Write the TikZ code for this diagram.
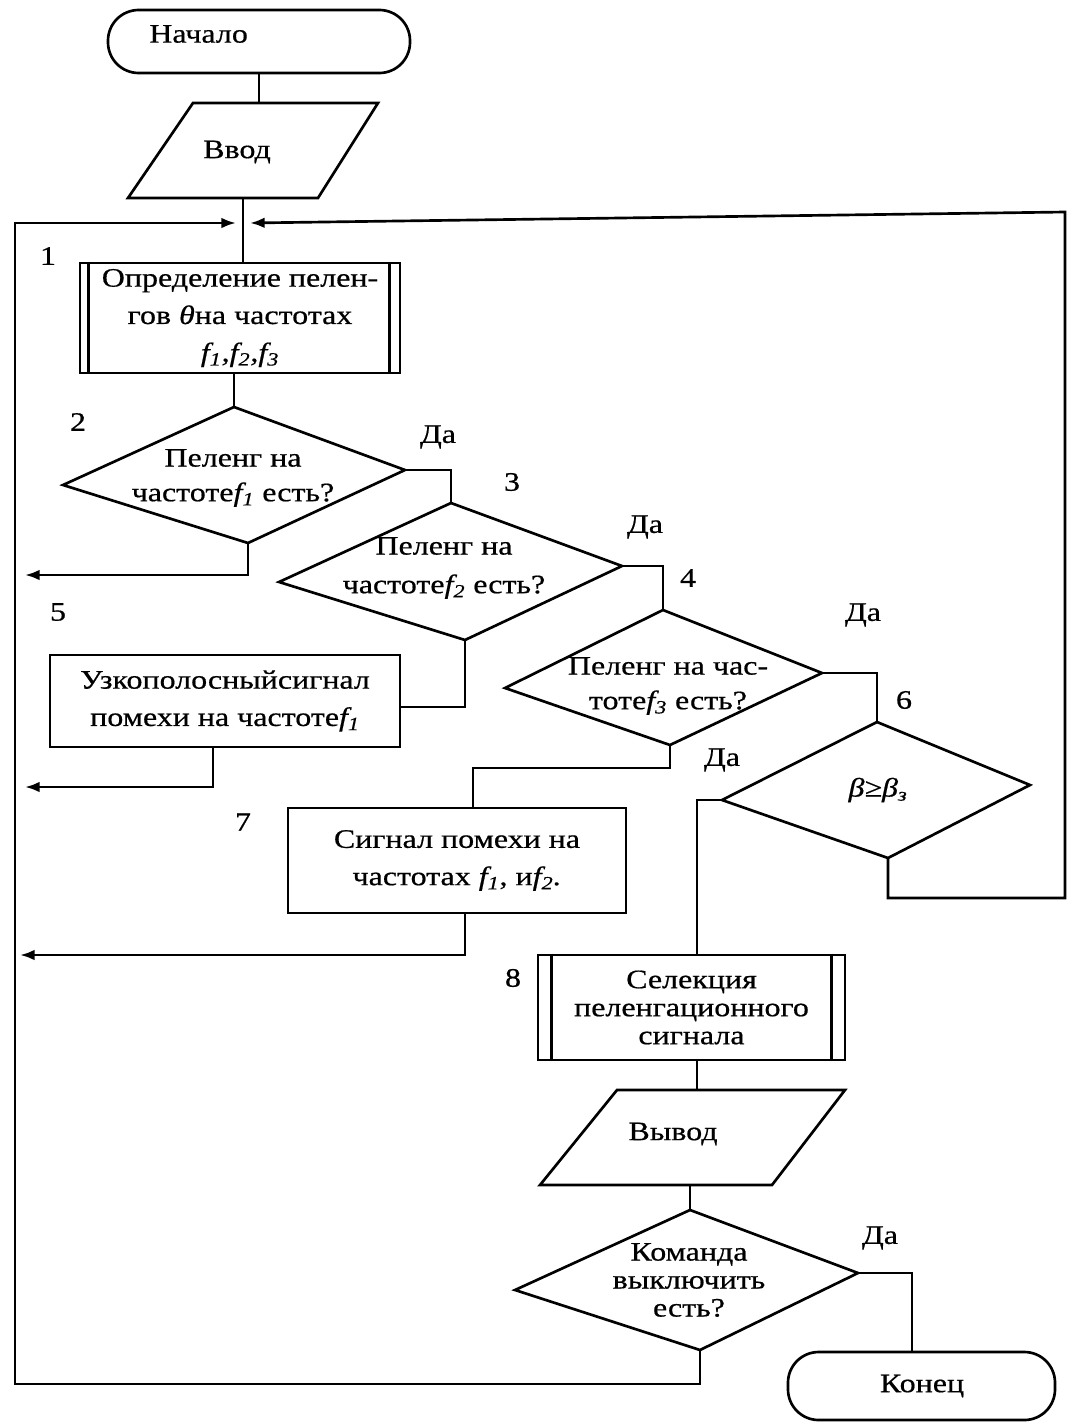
\documentclass[tikz,border=0pt]{standalone}
\usepackage{fontspec}
\setmainfont{Liberation Serif}[FakeStretch=1.2,FakeBold=0.6]
\usetikzlibrary{arrows.meta}
\begin{document}
\begin{tikzpicture}[x=0.75pt,y=-0.75pt,line width=2pt,
  every node/.style={font=\fontsize{20}{28}\selectfont,inner sep=0pt,align=center},
  proc/.style={draw,rectangle,line width=2pt},
  term/.style={draw,rectangle,rounded corners=23pt,line width=2pt},
  tight/.style={font=\fontsize{20}{21}\selectfont},
  arr/.style={-{Latex[length=11pt,width=8pt]}}]
\useasboundingbox (0,0) rectangle (1068,1424);
\fill[white] (0,0) rectangle (1068,1424);

% start
\node[term,minimum width=226.5pt,minimum height=47.25pt] (start) at (259,41.5) {};
\node[anchor=west] (tstart) at (148,34) {Начало};

% input
\coordinate (i1) at (193,103); \coordinate (i2) at (378,103);
\coordinate (i3) at (318,198); \coordinate (i4) at (128,198);
\draw (i1) -- (i2) -- (i3) -- (i4) -- cycle;
\node (tinp) at (237,152) {Ввод};

% box 1
\node[proc,minimum width=240pt,minimum height=82.5pt] (b1) at (240,318)
 {Определение пелен-\\гов \textit{θ}на частотах\\\textit{f\textsubscript{1},f\textsubscript{2},f\textsubscript{3}}};
\draw ([xshift=7.5pt]b1.north west) -- ([xshift=7.5pt]b1.south west);
\draw ([xshift=-9pt]b1.north east) -- ([xshift=-9pt]b1.south east);

% diamond 2
\coordinate (d2t) at (234,407); \coordinate (d2l) at (63,485);
\coordinate (d2r) at (405,470); \coordinate (d2b) at (248,543);
\draw (d2t) -- (d2r) -- (d2b) -- (d2l) -- cycle;
\node[font=\fontsize{20}{26}\selectfont] (t2) at (233,478) {Пеленг на\\частоте\textit{f\textsubscript{1}} есть?};

% diamond 3
\coordinate (d3t) at (451,503); \coordinate (d3l) at (279,582);
\coordinate (d3r) at (622,566); \coordinate (d3b) at (465,640);
\draw (d3t) -- (d3r) -- (d3b) -- (d3l) -- cycle;
\node[font=\fontsize{20}{29}\selectfont] (t3) at (444,568) {Пеленг на\\частоте\textit{f\textsubscript{2}} есть?};

% diamond 4
\coordinate (d4t) at (663,610); \coordinate (d4l) at (505,688);
\coordinate (d4r) at (822,673); \coordinate (d4b) at (670,745);
\draw (d4t) -- (d4r) -- (d4b) -- (d4l) -- cycle;
\node[font=\fontsize{20}{26}\selectfont] (t4) at (668,686) {Пеленг на час-\\тоте\textit{f\textsubscript{3}} есть?};

% diamond 6
\coordinate (d6t) at (877,722); \coordinate (d6l) at (722,800);
\coordinate (d6r) at (1030,785); \coordinate (d6b) at (888,858);
\draw (d6t) -- (d6r) -- (d6b) -- (d6l) -- cycle;
\node (t6) at (878,790) {\textit{β≥β\textsubscript{з}}};

% box 5
\node[proc,minimum width=262.5pt,minimum height=69pt] (b5) at (225,701)
 {Узкополосныйсигнал\\помехи на частоте\textit{f\textsubscript{1}}};

% box 7
\node[proc,minimum width=253.5pt,minimum height=78.75pt] (b7) at (457,860.5)
 {Сигнал помехи на\\частотах \textit{f\textsubscript{1}}, и\textit{f\textsubscript{2}.}};

% box 8
\node[proc,tight,minimum width=230.25pt,minimum height=78.75pt] (b8) at (691.5,1007.5)
 {Селекция\\пеленгационного\\сигнала};
\draw ([xshift=11.25pt]b8.north west) -- ([xshift=11.25pt]b8.south west);
\draw ([xshift=-11.25pt]b8.north east) -- ([xshift=-11.25pt]b8.south east);

% output
\coordinate (o1) at (617,1090); \coordinate (o2) at (845,1090);
\coordinate (o3) at (772,1185); \coordinate (o4) at (540,1185);
\draw (o1) -- (o2) -- (o3) -- (o4) -- cycle;
\node (tout) at (673,1134) {Вывод};

% diamond k
\coordinate (kt) at (690,1210); \coordinate (kl) at (515,1290);
\coordinate (kr) at (858,1273); \coordinate (kb) at (700,1350);
\draw (kt) -- (kr) -- (kb) -- (kl) -- cycle;
\node[tight] (tk) at (689,1280) {Команда\\выключить\\есть?};

% end
\node[term,minimum width=200.25pt,minimum height=51pt] (end) at (921.5,1386) {};
\node (tend) at (922,1386) {Конец};

% numbers and labels
\node (n1) at (48,256) {1};
\node (n2) at (78,422) {2};
\node (n3) at (512,482) {3};
\node (n4) at (688,578) {4};
\node (n5) at (58,612) {5};
\node (n6) at (904,700) {6};
\node (n7) at (243,822) {7};
\node (n8) at (513,978) {8};
\node (y2) at (438,437) {Да};
\node (y3) at (645,527) {Да};
\node (y4) at (863,615) {Да};
\node (y4b) at (722,760) {Да};
\node (yk) at (880,1238) {Да};

% connectors
\coordinate (vb) at (243,198);
\coordinate (A1) at (236,223);
\coordinate (A2) at (250,223);
\coordinate (L1) at (15,1384);
\coordinate (L2) at (15,223);
\coordinate (R1) at (1065,898);
\coordinate (R2) at (1065,212);
\draw (start.south) -- (start.south |- i1);
\draw (vb) -- (vb |- b1.north);
\draw (b1.south -| d2t) -- (d2t);
\draw (d2r) -| (d3t);
\draw (d3r) -| (d4t);
\draw (d4r) -| (d6t);
\draw[arr] (d2b) |- (25,575);
\draw (d3b) -- (465,707) -- (b5.east |- 0,707);
\draw[arr] (b5.south -| 213,0) |- (25,787);
\draw (d4b) -- (670,768) -| (b7.north -| 473,0);
\draw[arr] (b7.south -| 465,0) |- (20,955);
\draw (d6l) -| (b8.north -| 697,0);
\draw (b8.south -| 697,0) -- (o1 -| 697,0);
\draw (o4 -| 690,0) -- (kt);
\draw (kr) -| (end.north -| 912,0);
\draw[arr] (kb) |- (L1) -- (L2) -- (A1);
\draw[arr] (d6b) |- (R1) -- (R2) -- (A2);
\end{tikzpicture}
\end{document}
